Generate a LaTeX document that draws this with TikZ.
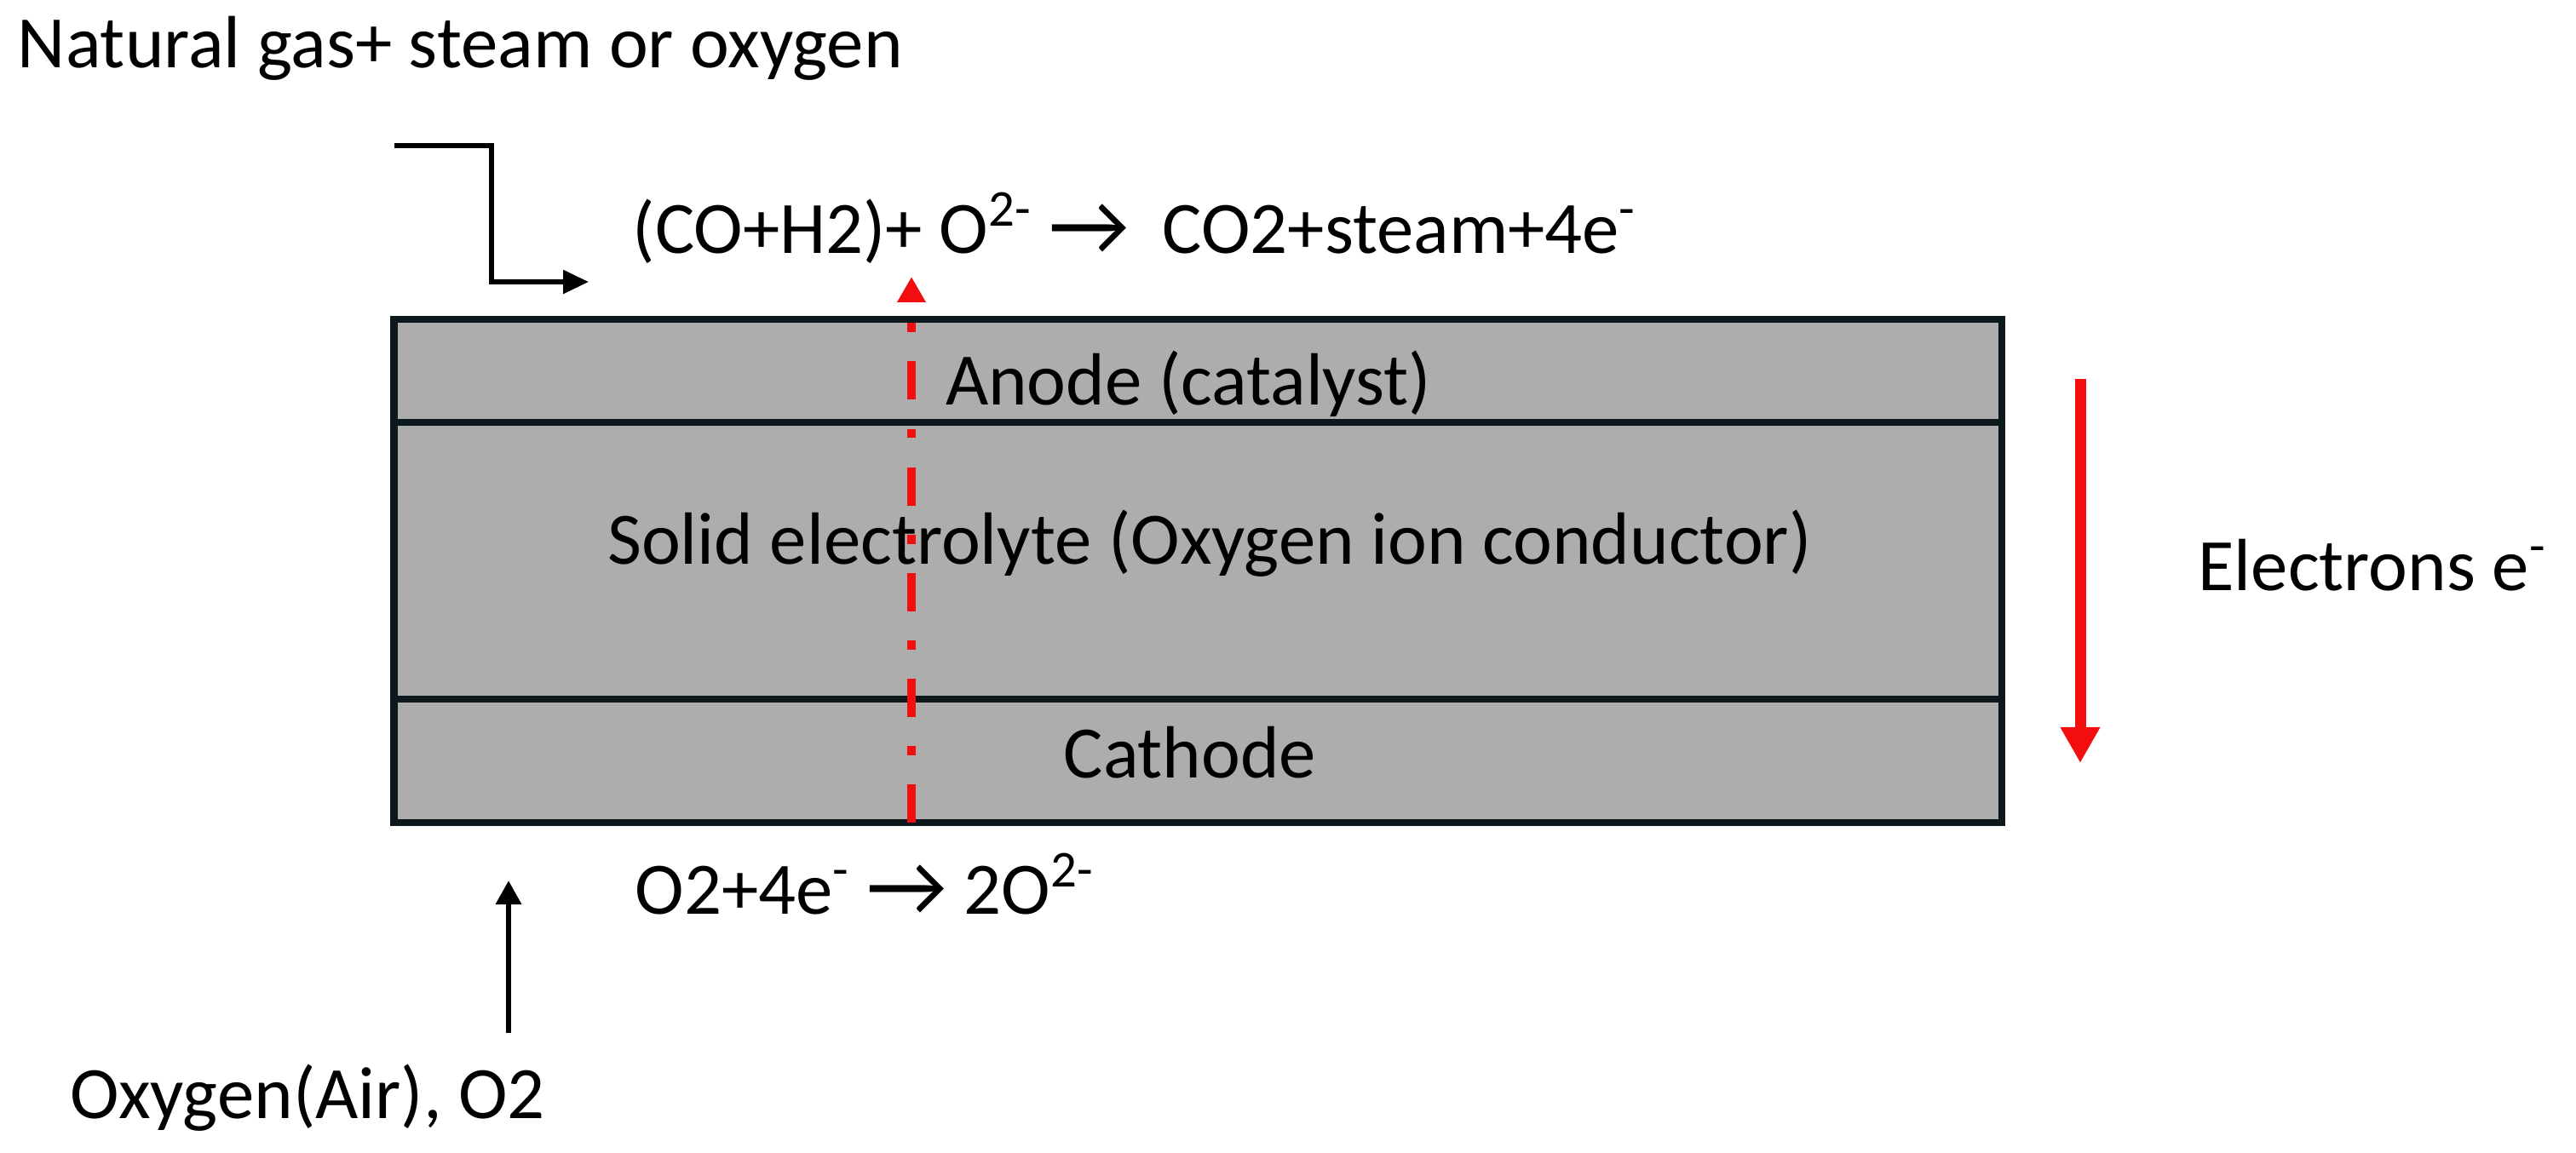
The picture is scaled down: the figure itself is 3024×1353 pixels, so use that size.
\documentclass[tikz,border=0pt]{standalone}
\usepackage{fontspec}
\setmainfont{Carlito}
\usetikzlibrary{arrows.meta}
\definecolor{layergray}{RGB}{173,173,173}
\definecolor{edgedark}{RGB}{12,24,28}
\definecolor{ionred}{RGB}{242,14,14}
\newcommand{\rxarrow}{\raisebox{-0.6pt}{\scalebox{1.2}{→}}}
\begin{document}
\begin{tikzpicture}[x=0.01cm,y=-0.01cm,
  lbl/.style={inner sep=0pt, outer sep=0pt, font=\fontsize{24.7}{29}\selectfont, anchor=base},
  layerbox/.style={draw=edgedark, fill=layergray, line width=2.3pt, inner sep=0pt, outer sep=0pt, minimum width=18.86cm},
  feed/.style={draw=black, line width=1.5pt, -{Triangle[length=8.5pt,width=7.7pt]}},
  airflow/.style={draw=black, line width=1.8pt, -{Triangle[length=8pt,width=8.3pt]}},
  ionpath/.style={draw=ionred, line width=2.6pt, dash pattern=on 12.8pt off 9.7pt on 3.1pt off 9.7pt, -{Triangle[length=8.5pt,width=9pt]}},
  eflow/.style={draw=ionred, line width=3.7pt, -{Triangle[length=12pt,width=12.5pt]}}
]
\useasboundingbox (0,0) rectangle (3024,1353);

% layers
\node[layerbox, minimum height=1.21cm] (anodebox) at (1406,435.5) {};
\node[layerbox, minimum height=3.25cm] (elecbox) at (1406,658.5) {};
\node[layerbox, minimum height=1.45cm] (cathbox) at (1406,893.5) {};

% texts
\node[lbl, anchor=base west] (natgas) at (21,79) {Natural gas+ steam or oxygen};
\node[lbl] (topeq) at (1332,297) {(CO+H2)+ O\textsuperscript{2-} \rxarrow\ \ CO2+steam+4e\textsuperscript{-}};
\node[lbl] (anodetxt) at (1395,475) {Anode (catalyst)};
\node[lbl] (electxt) at (1420,662) {Solid electrolyte (Oxygen ion conductor)};
\node[lbl] (cathtxt) at (1397,913) {Cathode};
\node[lbl] (boteq) at (1015,1073) {O2+4e\textsuperscript{-} \rxarrow\ 2O\textsuperscript{2-}};
\node[lbl] (electrons) at (2785,693) {Electrons e\textsuperscript{-}};
\node[lbl] (airtxt) at (361,1313) {Oxygen(Air), O2};

% connectors
\coordinate (feedin) at (463,171);
\coordinate (feedbend) at (577,331);
\coordinate (feedtip) at (691,331);
\draw[feed] (feedin) -| (feedbend) -- (feedtip);

\coordinate (ionbase) at (1070,966);
\coordinate (iontip) at (1070,325);
\draw[ionpath] (ionbase) -- (iontip);

\coordinate (etop) at (2442,445);
\coordinate (ebot) at (2442,896);
\draw[eflow] (etop) -- (ebot);

\coordinate (airtail) at (597,1213);
\coordinate (airtip) at (597,1034);
\draw[airflow] (airtail) -- (airtip);
\end{tikzpicture}
\end{document}
